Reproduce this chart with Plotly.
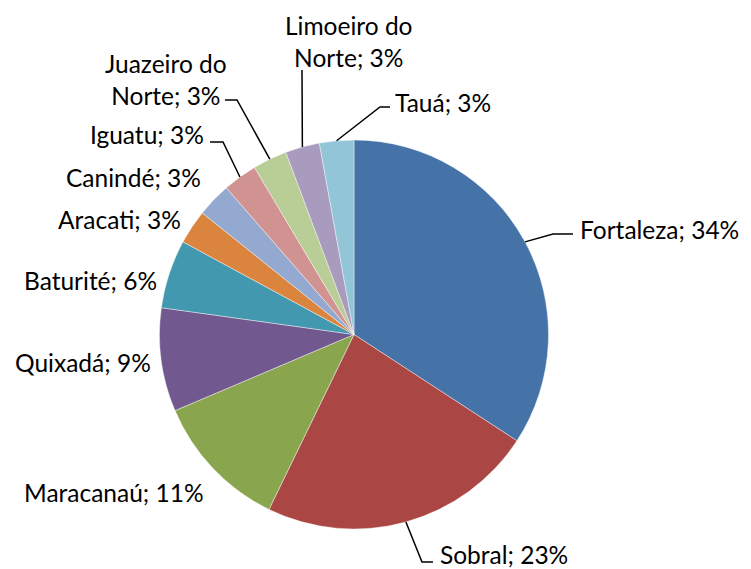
import math
import plotly.graph_objects as go

# ---- data ----
cities = ["Fortaleza", "Sobral", "Maracanaú", "Quixadá", "Baturité", "Aracati",
          "Canindé", "Iguatu", "Juazeiro do Norte", "Limoeiro do Norte", "Tauá"]
shares = [34.2, 23.0, 11.4, 8.6, 5.7, 2.85, 2.85, 2.85, 2.85, 2.85, 2.85]
label_texts = ["Fortaleza", "Sobral", "Maracanaú", "Quixadá", "Baturité", "Aracati",
               "Canindé", "Iguatu", "Juazeiro do<br>Norte", "Limoeiro do<br>Norte", "Tauá"]

# ---- style ----
colors = ["#4572A7", "#AA4643", "#89A54E", "#71588F", "#4198AF", "#DB843D",
          "#93A9CF", "#D19392", "#B9CD96", "#A99BBD", "#92C5D8"]
W, H = 751, 569
CX, CY, R = 354, 334.5, 194.5
FONT = "Lato"
FSIZE = 24.5

# label placement (pixels): x, y of anchor, xanchor
label_place = [
    (578, 229, "left"),
    (438, 554, "left"),
    (206, 492, "right"),
    (153, 363, "right"),
    (159, 280, "right"),
    (183, 219, "right"),
    (203, 177, "right"),
    (206, 135, "right"),
    (166, 79, "center"),
    (349, 41, "center"),
    (393, 102, "left"),
]
# leader line points after the slice edge (pixels); None = no leader
leaders = [
    [(553, 234), (573, 234)],
    [(422, 562), (433, 562)],
    None, None, None, None, None,
    [(223, 142), (210, 142)],
    [(237, 100), (225, 100)],
    [(302, 70)],
    [(380, 107), (390, 107)],
]


def px(x):
    return x / W


def py(y):
    return 1 - y / H


fig = go.Figure(go.Pie(
    labels=cities, values=shares, sort=False, direction="clockwise", rotation=0,
    marker=dict(colors=colors, line=dict(color="rgba(255,255,255,0.6)", width=0.7)),
    textinfo="none", hoverinfo="label+percent", showlegend=False,
    domain=dict(x=[px(CX - R), px(CX + R)], y=[py(CY + R), py(CY - R)]),
))

total = sum(shares)
annotations = []
shapes = []
cum = 0
for i, v in enumerate(shares):
    pct = round(100 * v / total)
    mid = (cum + v / 2) / total * 2 * math.pi
    cum += v
    x, y, xa = label_place[i]
    annotations.append(dict(
        x=px(x), y=py(y), xref="paper", yref="paper", showarrow=False,
        text=f"{label_texts[i]}; {pct}%", xanchor=xa, yanchor="middle",
        align="center", font=dict(family=FONT, size=FSIZE, color="black"),
    ))
    if leaders[i]:
        ex = CX + R * math.sin(mid)
        ey = CY - R * math.cos(mid)
        pts = [(ex, ey)] + leaders[i]
        path = "M " + " L ".join(f"{px(a):.5f},{py(b):.5f}" for a, b in pts)
        shapes.append(dict(type="path", xref="paper", yref="paper", path=path,
                           line=dict(color="black", width=1.5)))

fig.update_layout(
    width=W, height=H, margin=dict(l=0, r=0, t=0, b=0),
    paper_bgcolor="white", plot_bgcolor="white",
    annotations=annotations, shapes=shapes,
)
fig.write_html("out.html", config={"displayModeBar": False},
               post_script="document.body.style.margin='0px';")
